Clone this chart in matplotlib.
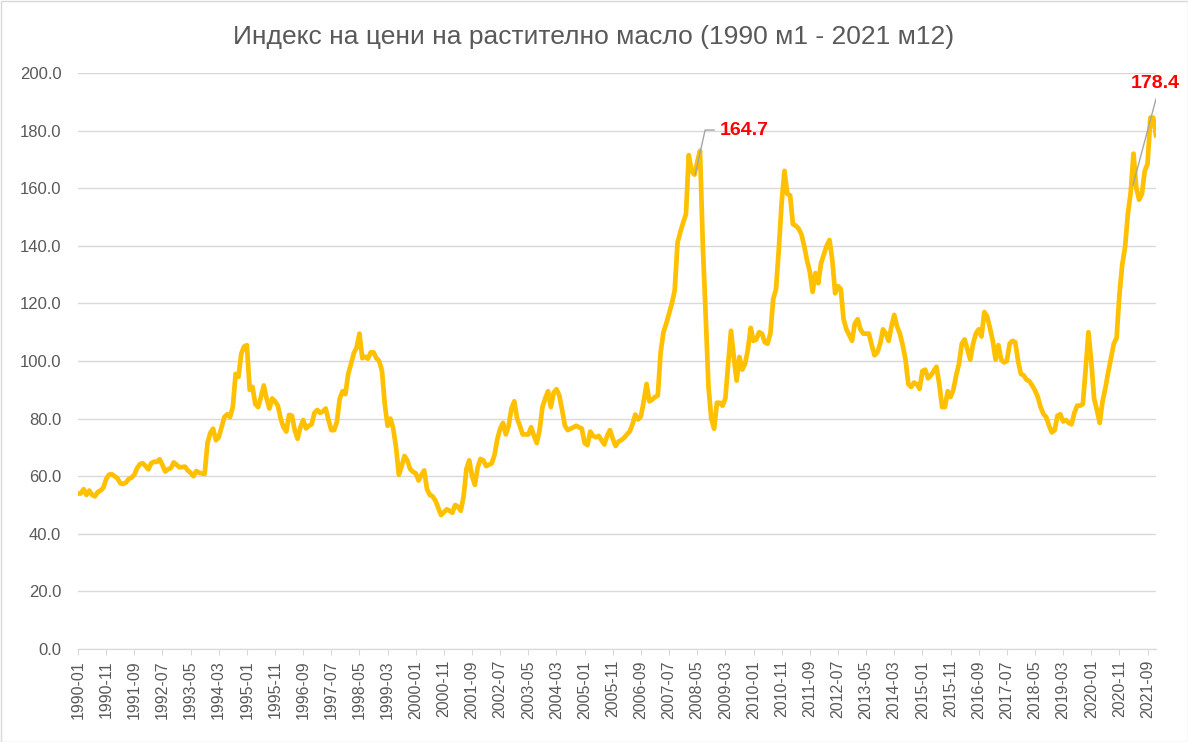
import numpy as np
import pandas as pd
import matplotlib
matplotlib.use("Agg")
import matplotlib.pyplot as plt
from matplotlib.patches import Rectangle
from matplotlib.ticker import FormatStrFormatter

# monthly vegetable oil price index
y1990 = [54, 54, 55.5, 53.5, 55, 53.5, 53, 54.5, 55, 56, 59, 60.5]
y1991 = [60.7, 60, 59.3, 57.6, 57.3, 57.8, 59, 59.5, 60.5, 62.8, 64.2, 64.5]
y1992 = [63.5, 62.4, 64.5, 65, 65, 65.9, 63.9, 61.6, 62.4, 62.8, 64.8, 64]
y1993 = [63.1, 63.2, 63.3, 62, 61.2, 60, 61.8, 61.2, 61, 60.8, 71.5, 75]
y1994 = [76.5, 72.5, 73.5, 77, 80.5, 81.5, 80.5, 84, 95.5, 94.5, 102.5, 105]
y1995 = [105.5, 90, 91, 85, 84, 87.5, 91.5, 87, 83.5, 87, 86, 84.5]
y1996 = [80, 77, 75.5, 81.3, 81, 76, 73, 77, 79.5, 76.6, 77.5, 78]
y1997 = [82, 83, 82, 82.5, 83.5, 79.5, 76, 76, 79, 87, 89.5, 88.5]
y1998 = [95.5, 99, 102.7, 104.7, 109.5, 101, 101.5, 100.8, 103, 103, 101, 100]
y1999 = [96.5, 85, 77.5, 80, 76.5, 70, 60.5, 63.5, 67, 65.5, 62.5, 61.5]
y2000 = [61, 58.5, 60.5, 62, 55.5, 53.5, 53, 51.5, 49, 46.5, 47.5, 48.5]
y2001 = [48, 47.3, 50, 49.4, 48, 53, 62.5, 65.5, 60, 57, 63, 66]
y2002 = [65.5, 63.5, 64, 64.5, 67.5, 73, 76.5, 78.5, 74.5, 77.5, 83.5, 86]
y2003 = [80, 77.5, 74.5, 74.5, 74.5, 77, 74, 71.5, 76, 84, 87, 89.5]
y2004 = [84, 89, 90.2, 88, 83, 77.5, 76, 76.5, 77, 77.5, 77, 76.5]
y2005 = [71.5, 70.8, 75.5, 74, 73.5, 74, 72.5, 71, 74, 76, 73, 70.5]
y2006 = [72, 72.5, 73.3, 74.5, 75.5, 78, 81.4, 79.7, 80.8, 86, 92, 86]
y2007 = [86.6, 87.5, 88, 103, 110, 113, 116.5, 120, 124.5, 141, 144.8, 148]
y2008 = [151, 171.5, 166, 164.7, 169, 173, 140, 116, 91, 80, 76.5, 85.5]
y2009 = [85.5, 84.5, 87, 99, 110.5, 101.4, 93.2, 101.4, 97, 99, 104, 111.5]
y2010 = [107, 107.5, 110, 109.5, 106.5, 106, 109.6, 121.5, 125, 139, 155, 166]
y2011 = [158, 157.5, 147.5, 147, 146, 144, 140, 135, 131, 124, 130.5, 127]
y2012 = [134, 137, 140, 142, 135, 123.5, 126, 125, 114.5, 111, 109, 107]
y2013 = [113, 114.5, 111, 109.5, 109.5, 109.5, 105.5, 102, 103, 106, 111, 109.5]
y2014 = [107, 112, 116, 112, 109.5, 105.5, 100.5, 92, 91, 92.5, 92, 90.3]
y2015 = [96.5, 97, 94, 95, 96.5, 98, 92, 84, 84, 89.5, 87.5, 90]
y2016 = [95, 99, 106, 107.5, 104, 100.5, 106, 109.5, 111, 108.5, 117, 115.5]
y2017 = [111.5, 107, 100.5, 105.5, 100.5, 99.5, 100, 106, 107, 106.5, 100, 95.5]
y2018 = [95, 93.5, 93, 91.5, 89.8, 87.5, 84, 81.6, 80.5, 77.5, 75.2, 76]
y2019 = [81, 81.5, 79, 79.5, 78.5, 78, 82, 84.5, 84.5, 85, 97, 110]
y2020 = [100, 87, 83, 78.5, 86, 90.5, 96, 101, 106, 108, 123, 133.5]
y2021 = [139.5, 151, 158.5, 172, 160, 156, 158, 166, 168.5, 184.5, 184.5, 178.4]

values = np.array(y1990 + y1991 + y1992 + y1993 + y1994 + y1995 + y1996 + y1997
                  + y1998 + y1999 + y2000 + y2001 + y2002 + y2003 + y2004 + y2005
                  + y2006 + y2007 + y2008 + y2009 + y2010 + y2011 + y2012 + y2013
                  + y2014 + y2015 + y2016 + y2017 + y2018 + y2019 + y2020 + y2021)
months = pd.period_range("1990-01", periods=len(values), freq="M").strftime("%Y-%m")

TITLE = "Индекс на цени на растително масло (1990 м1 - 2021 м12)"
GRAY = "#595959"
GRID = "#D9D9D9"

plt.rcParams["font.family"] = ["Liberation Sans", "DejaVu Sans"]

W, H = 1188, 742
fig = plt.figure(figsize=(W / 100, H / 100), dpi=100)
ax = fig.add_axes([78 / W, 1 - 649 / H, (1156 - 78) / W, (649 - 73) / H])

x = np.arange(len(values))
ax.plot(x, values, color="#FFC000", lw=3.4, solid_joinstyle="round", zorder=3)

ax.set_xlim(0, len(values) - 1)
ax.set_ylim(0, 200)
ax.set_yticks(np.arange(0, 201, 20))
ax.yaxis.set_major_formatter(FormatStrFormatter("%.1f"))
ax.set_xticks(x[::10])
ax.set_xticklabels(months[::10], rotation=90)

ax.grid(axis="y", color=GRID, lw=1)
ax.set_axisbelow(True)
for side in ["top", "right", "left"]:
    ax.spines[side].set_visible(False)
ax.spines["bottom"].set_color(GRID)
ax.tick_params(axis="y", length=0, pad=12, labelsize=12, labelcolor=GRAY)
ax.tick_params(axis="x", length=4, color=GRID, pad=4, labelsize=11.5, labelcolor=GRAY)

# data labels with leader lines
i08 = 219
ax.plot([i08 + 0.3, 222.8, 226.0], [values[i08], 180.2, 180.2], color="#A6A6A6", lw=1, zorder=4)
ax.text(228.0, 180.2, "164.7", color="red", fontsize=14, fontweight="bold",
        ha="left", va="center")
ax.plot([374.8, 383.0], [161.0, 191.0], color="#A6A6A6", lw=1, zorder=4)
ax.text(382.9, 196.2, "178.4", color="red", fontsize=14, fontweight="bold",
        ha="center", va="center", clip_on=False)

fig.text(0.5, 1 - 37 / H, TITLE, ha="center", va="center", fontsize=19, color=GRAY)
fig.patches.append(Rectangle((0.5 / W, 0.5 / H), 1 - 1 / W, 1 - 1 / H,
                             transform=fig.transFigure, fill=False,
                             edgecolor=GRID, lw=1))

fig.savefig("out.png", dpi=100)
